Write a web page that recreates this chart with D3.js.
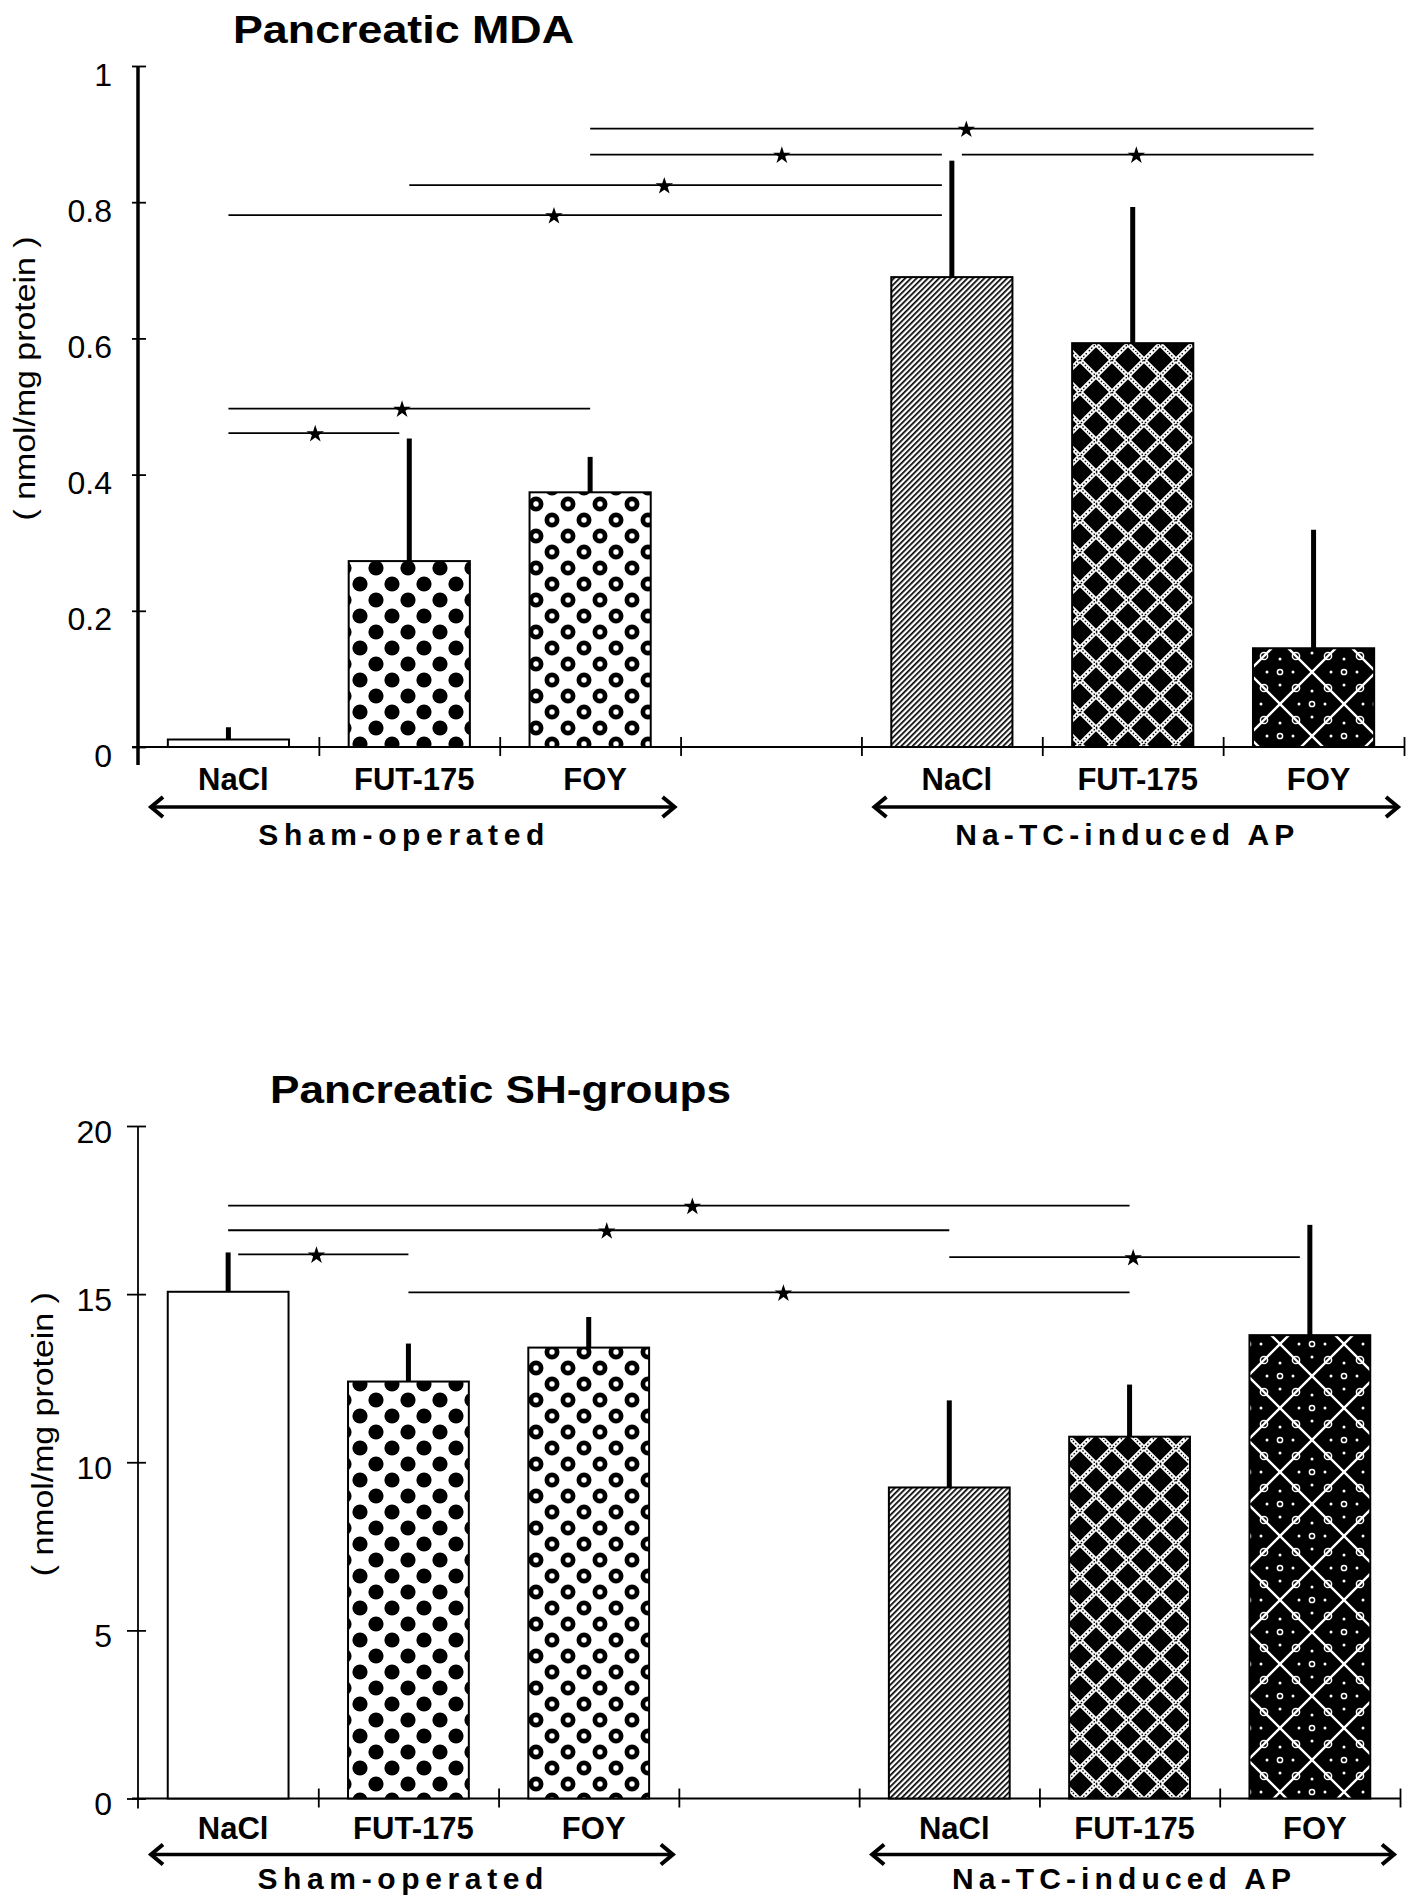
<!DOCTYPE html>
<html>
<head>
<meta charset="utf-8">
<script src="https://cdn.jsdelivr.net/npm/d3@7"></script>
<style>
  body { margin: 0; background: #fff; }
  svg { display: block; font-family: "Liberation Sans", Arial, Helvetica, sans-serif; }
</style>
</head>
<body>
<div id="chart"></div>
<script>
// ---- data ----
const groupNames = ["Sham-operated", "Na-TC-induced AP"];
const treatments = ["NaCl", "FUT-175", "FOY"];

// pancreatic MDA (nmol/mg protein), 3 sham bars then 3 AP bars
const mdaMean = [0.011, 0.273, 0.374, 0.69, 0.593, 0.145];
const mdaSD = [0.018, 0.18, 0.052, 0.171, 0.20, 0.174];
const mdaTicks = [0, 0.2, 0.4, 0.6, 0.8, 1];
const mdaTickLabels = ["0", "0.2", "0.4", "0.6", "0.8", "1"];

// pancreatic SH-groups (nmol/mg protein)
const shMean = [15.07, 12.4, 13.41, 9.25, 10.76, 13.78];
const shSD = [1.17, 1.13, 0.91, 2.59, 1.55, 3.28];
const shTicks = [0, 5, 10, 15, 20];
const shTickLabels = ["0", "5", "10", "15", "20"];

// significance brackets: bar a -> bar b, at value "level", star at fraction "at"
const mdaSig = [
  { a: 0, b: 1, level: 0.461, at: 0.48 },
  { a: 0, b: 2, level: 0.497, at: 0.48 },
  { a: 0, b: 3, level: 0.781, at: 0.45 },
  { a: 1, b: 3, level: 0.825, at: 0.47 },
  { a: 2, b: 3, level: 0.870, at: 0.53 },
  { a: 3, b: 5, level: 0.870, at: 0.51 },
  { a: 2, b: 5, level: 0.908, at: 0.52 }
];
const shSig = [
  { a: 0, b: 1, level: 16.18, at: 0.49 },
  { a: 1, b: 4, level: 15.05, at: 0.52 },
  { a: 3, b: 5, level: 16.1, at: 0.51 },
  { a: 0, b: 3, level: 16.9, at: 0.525 },
  { a: 0, b: 4, level: 17.63, at: 0.515 }
];

const barFills = ["#fff", "url(#pDots)", "url(#pRings)", "url(#pHatch)", "url(#pLattice)", "url(#pCross)"];

const W = 1417, H = 1901;
const svg = d3.select("#chart").append("svg").attr("width", W).attr("height", H);
svg.append("rect").attr("width", W).attr("height", H).attr("fill", "#fff");

// ---- fill patterns ----
const defs = svg.append("defs");

function tile(id, size) {
  return defs.append("pattern").attr("id", id)
    .attr("patternUnits", "userSpaceOnUse")
    .attr("width", size).attr("height", size);
}

// big black dots
const pDots = tile("pDots", 32);
pDots.append("rect").attr("width", 32).attr("height", 32).attr("fill", "#fff");
[[8, 8], [24, 24]].forEach(([cx, cy]) =>
  pDots.append("circle").attr("cx", cx).attr("cy", cy).attr("r", 7.6).attr("fill", "#000"));

// black rings
const pRings = tile("pRings", 32);
pRings.append("rect").attr("width", 32).attr("height", 32).attr("fill", "#fff");
[[8, 8], [24, 24]].forEach(([cx, cy]) =>
  pRings.append("circle").attr("cx", cx).attr("cy", cy).attr("r", 5.1)
    .attr("fill", "none").attr("stroke", "#000").attr("stroke-width", 4.8));

// fine diagonal hatch
const pHatch = defs.append("pattern").attr("id", "pHatch")
  .attr("patternUnits", "userSpaceOnUse")
  .attr("width", 4).attr("height", 4)
  .attr("patternTransform", "rotate(45)");
pHatch.append("rect").attr("width", 4).attr("height", 4).attr("fill", "#fff");
pHatch.append("rect").attr("width", 1.7).attr("height", 4).attr("fill", "#000");

// black dots in a white textured lattice
const pLattice = tile("pLattice", 32);
const latPath = "M-16,16L16,-16M-16,48L48,-16M16,48L48,16M-16,0L32,48M0,-16L48,32";
pLattice.append("rect").attr("width", 32).attr("height", 32).attr("fill", "#000");
pLattice.append("path").attr("d", latPath).attr("stroke", "#fff").attr("stroke-width", 4.6);
pLattice.append("path").attr("d", latPath).attr("stroke", "#000").attr("stroke-width", 1.3)
  .attr("stroke-dasharray", "1.6 1.8");
[[8, 8], [24, 24]].forEach(([cx, cy]) =>
  pLattice.append("circle").attr("cx", cx).attr("cy", cy).attr("r", 8.2).attr("fill", "#000"));

// black with large white crosses and small marks
const pCross = tile("pCross", 64);
const crossPath = "M-16,16L16,-16M-16,80L80,-16M48,80L80,48M-16,-16L80,80M48,-16L80,16M-16,48L16,80";
pCross.append("rect").attr("width", 64).attr("height", 64).attr("fill", "#000");
pCross.append("path").attr("d", crossPath).attr("stroke", "#fff").attr("stroke-width", 2.4);
[[16, 16], [48, 16], [16, 48], [48, 48]].forEach(([cx, cy]) =>
  pCross.append("circle").attr("cx", cx).attr("cy", cy).attr("r", 3.6)
    .attr("fill", "none").attr("stroke", "#fff").attr("stroke-width", 1.5));
[[32, 0], [0, 32], [64, 32], [32, 64]].forEach(([cx, cy]) => {
  pCross.append("circle").attr("cx", cx).attr("cy", cy).attr("r", 2.6)
    .attr("fill", "none").attr("stroke", "#fff").attr("stroke-width", 1.5);
  [[13, 0], [-13, 0], [0, 13], [0, -13]].forEach(([dx, dy]) =>
    pCross.append("circle").attr("cx", cx + dx).attr("cy", cy + dy).attr("r", 1.5).attr("fill", "#fff"));
});

// ---- one panel ----
function drawChart(cfg) {
  const g = svg.append("g");
  const y = d3.scaleLinear().domain(cfg.yDomain).range(cfg.yRange);
  const x = d3.scaleBand().domain(d3.range(7)).range(cfg.xRange)
    .paddingInner(0.33).paddingOuter(0.165);
  const slotOf = i => (i < 3 ? i : i + 1);
  const cx = i => x(slotOf(i)) + x.bandwidth() / 2;
  const x0 = cfg.xRange[0];
  const y0 = y(0);
  const domMax = cfg.yDomain[1];

  // title
  g.append("text")
    .attr("x", cfg.titleX).attr("y", cfg.titleY)
    .attr("font-size", 39).attr("font-weight", "bold")
    .attr("textLength", cfg.titleLen).attr("lengthAdjust", "spacingAndGlyphs")
    .text(cfg.title);

  // y axis label
  g.append("text")
    .attr("transform", `translate(${cfg.yLabelX},${(cfg.yRange[0] + cfg.yRange[1]) / 2 - 28}) rotate(-90)`)
    .attr("text-anchor", "middle")
    .attr("font-size", 29)
    .attr("textLength", 284).attr("lengthAdjust", "spacingAndGlyphs")
    .text("( nmol/mg protein )");

  // y axis
  const yAxis = g.append("g")
    .attr("transform", `translate(${x0},0)`)
    .call(d3.axisLeft(y).tickValues(cfg.ticks)
      .tickFormat((d, i) => cfg.tickLabels[i])
      .tickSize(cfg.tickLeft).tickPadding(26 - cfg.tickLeft));
  yAxis.attr("font-family", null).attr("font-size", null);
  yAxis.select(".domain").remove();
  yAxis.selectAll(".tick line").attr("x1", 8).attr("stroke-width", 1.8);
  yAxis.selectAll(".tick text").attr("font-size", 32).attr("dy", cfg.tickDy).attr("fill", "#000");

  g.append("line")
    .attr("x1", x0).attr("x2", x0)
    .attr("y1", cfg.yRange[1]).attr("y2", y0 + cfg.axisOver)
    .attr("stroke", "#000").attr("stroke-width", cfg.axisWidth);

  // x axis with ticks between the slots
  const xb = d3.scaleLinear().domain([0, 7]).range(cfg.xRange);
  const xAxis = g.append("g")
    .attr("transform", `translate(0,${y0})`)
    .call(d3.axisBottom(xb).tickValues(d3.range(1, 8)).tickSize(9).tickFormat(""));
  xAxis.select(".domain").remove();
  xAxis.selectAll(".tick line").attr("y1", -10).attr("stroke-width", 1.8);
  g.append("line")
    .attr("x1", x0 - 6).attr("x2", cfg.xRange[1])
    .attr("y1", y0).attr("y2", y0)
    .attr("stroke", "#000").attr("stroke-width", 2);

  // bars
  g.selectAll(".bar").data(cfg.mean).join("rect")
    .attr("class", "bar")
    .attr("x", (d, i) => x(slotOf(i)))
    .attr("y", d => y(d))
    .attr("width", x.bandwidth())
    .attr("height", d => y0 - y(d))
    .attr("fill", (d, i) => barFills[i])
    .attr("stroke", "#000").attr("stroke-width", 2);

  // error bars (upper only)
  g.selectAll(".err").data(cfg.mean).join("line")
    .attr("class", "err")
    .attr("x1", (d, i) => cx(i)).attr("x2", (d, i) => cx(i))
    .attr("y1", d => y(d))
    .attr("y2", (d, i) => y(d + cfg.sd[i]))
    .attr("stroke", "#000").attr("stroke-width", 5);

  // significance brackets
  const errTop = i => cfg.mean[i] + cfg.sd[i];
  const star = d3.symbol().type(d3.symbolStar).size(95);
  cfg.sig.forEach(s => {
    const xa = cx(s.a), xbb = cx(s.b);
    const ya = y(s.level);
    const trimA = errTop(s.a) > s.level - 0.012 * domMax ? 10 : 0;
    const trimB = errTop(s.b) > s.level - 0.012 * domMax ? 10 : 0;
    g.append("line")
      .attr("x1", xa + trimA).attr("x2", xbb - trimB)
      .attr("y1", ya).attr("y2", ya)
      .attr("stroke", "#000").attr("stroke-width", 1.8);
    g.append("path")
      .attr("d", star)
      .attr("transform", `translate(${xa + s.at * (xbb - xa)},${ya + 1})`)
      .attr("fill", "#000");
  });

  // treatment labels
  g.selectAll(".cat").data(cfg.mean).join("text")
    .attr("class", "cat")
    .attr("x", (d, i) => cx(i) + 5)
    .attr("y", y0 + cfg.labelDy)
    .attr("text-anchor", "middle")
    .attr("font-size", 31).attr("font-weight", "bold")
    .text((d, i) => treatments[i % 3]);

  // group arrows and names
  groupNames.forEach((name, gi) => {
    const start = xb(gi * 4) + 13;
    const end = xb(gi * 4 + 3) - 6;
    const ay = y0 + cfg.arrowDy;
    g.append("line")
      .attr("x1", start).attr("x2", end).attr("y1", ay).attr("y2", ay)
      .attr("stroke", "#000").attr("stroke-width", 3.5);
    g.append("path")
      .attr("d", `M${start + 12},${ay - 10}L${start},${ay}L${start + 12},${ay + 10}`
        + `M${end - 12},${ay - 10}L${end},${ay}L${end - 12},${ay + 10}`)
      .attr("fill", "none").attr("stroke", "#000").attr("stroke-width", 4);
    g.append("text")
      .attr("x", cx(gi * 3 + 1) - 8)
      .attr("y", y0 + cfg.groupDy)
      .attr("text-anchor", "middle")
      .attr("font-size", 30).attr("font-weight", "bold")
      .attr("textLength", gi === 0 ? 286 : 339).attr("lengthAdjust", "spacing")
      .text(name);
  });
}

drawChart({
  title: "Pancreatic MDA", titleX: 233, titleY: 43, titleLen: 341,
  yDomain: [0, 1], yRange: [747, 66], xRange: [138, 1404],
  ticks: mdaTicks, tickLabels: mdaTickLabels, tickLeft: 6, tickDy: 19,
  axisWidth: 3.5, axisOver: 18, yLabelX: 35,
  labelDy: 43, arrowDy: 60, groupDy: 98,
  mean: mdaMean, sd: mdaSD, sig: mdaSig
});

drawChart({
  title: "Pancreatic SH-groups", titleX: 270, titleY: 1103, titleLen: 461,
  yDomain: [0, 20], yRange: [1798.5, 1126], xRange: [138, 1400],
  ticks: shTicks, tickLabels: shTickLabels, tickLeft: 11, tickDy: 16,
  axisWidth: 1.8, axisOver: 10, yLabelX: 53,
  labelDy: 40, arrowDy: 56, groupDy: 90,
  mean: shMean, sd: shSD, sig: shSig
});
</script>
</body>
</html>
